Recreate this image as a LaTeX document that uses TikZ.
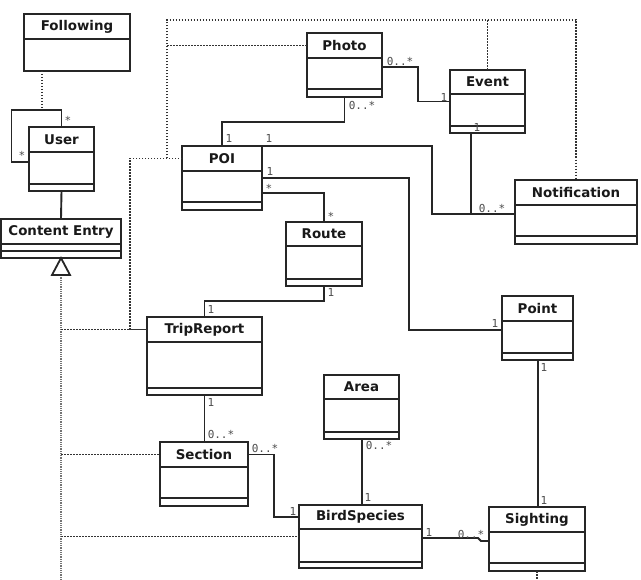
\documentclass[tikz,border=0pt]{standalone}
\usepackage{fontspec}
\setmainfont{DejaVu Sans}
\newfontfamily\multfont{DejaVu Sans Mono}
\usetikzlibrary{calc}
\tikzset{
  clsbox/.style={draw=black!85, line width=2pt, inner sep=0pt, outer sep=0pt, fill=white},
  clsline/.style={draw=black!85, line width=2pt},
  clstitle/.style={font=\fontsize{13.4}{15}\selectfont\bfseries, text=black!90, inner sep=0pt},
  conn/.style={draw=black!85, line width=1.9pt},
  dotln/.style={draw=black!80, line width=1.6pt, dash pattern=on 1.5pt off 1.5pt},
  genln/.style={draw=black!55, line width=1.5pt, dash pattern=on 1pt off 0.8pt},
  tri/.style={draw=black!85, line width=1.8pt, fill=white, line join=miter},
  mult/.style={font=\multfont\fontsize{11}{12}\selectfont, text=black!70, inner sep=0pt},
}
\newcommand\umlclass[8]{%
  \node[clsbox, minimum width=#4pt, minimum height=#5pt, anchor=north west] (#1) at (#2,#3) {};
  \draw[clsline] ($(#1.north west)+(0,#6)$) -- ++(#4,0);
  \draw[clsline] ($(#1.north west)+(0,#7)$) -- ++(#4,0);
  \node[clstitle] (#1-t) at ($(#1.north)+(0,#6/2)$) {#8};
}
\begin{document}
\begin{tikzpicture}[x=1pt,y=-1pt]
\useasboundingbox (0,0) rectangle (641,580);

% classes: name, x, y, w, h, title band, second line, title
\umlclass{following}{24}{14}{106}{57}{25}{57}{Following}
\umlclass{user}{29}{127}{65}{64}{25}{57}{User}
\umlclass{content}{1}{219}{120}{39}{25}{32}{Content Entry}
\umlclass{photo}{307}{33}{75}{64}{25}{56}{Photo}
\umlclass{event}{450}{70}{75}{63}{24}{56}{Event}
\umlclass{poi}{182}{146}{80}{64}{25}{56}{POI}
\umlclass{notif}{515}{180}{122}{64}{25}{56}{Notification}
\umlclass{route}{286}{222}{76}{64}{24}{57}{Route}
\umlclass{trip}{147}{317}{115}{78}{25}{71}{TripReport}
\umlclass{area}{324}{375}{75}{64}{24}{57}{Area}
\umlclass{point}{502}{296}{71}{64}{25}{57}{Point}
\umlclass{section}{160}{442}{88}{64}{25}{56}{Section}
\umlclass{bird}{299}{505}{123}{63}{24}{57}{BirdSpecies}
\umlclass{sighting}{489}{507}{96}{64}{25}{56}{Sighting}

% helper coordinates
\coordinate (vx) at ($(poi.west)+(-15,0)$);
\coordinate (topl) at ($(vx |- photo.north)+(0,-13)$);
\coordinate (gbot) at (content.south |- 0,580);
\coordinate (ev) at ($(event.south)+(-16.5,0)$);
\coordinate (as) at ($(area.south)+(0.5,0)$);
\coordinate (ps) at ($(point.south)+(0.5,0)$);

% generalization
\draw[genln] (gbot) -- ($(content.south)+(0,17)$);
\draw[tri] (content.south) -- ++(-9,17) -- ++(18,0) -- cycle;

% dotted realisation lines
\draw[dotln] (poi.west |- poi-t.center) -- ++(-52,0) |- (trip.west |- trip-t.center);
\draw[dotln] (vx |- poi-t.center) -- (topl) -| (notif.north);
\draw[dotln] (vx |- photo-t.center) -- (photo.west |- photo-t.center);
\draw[dotln] (event.north) -- (event.north |- topl);
\draw[dotln] (content.south |- trip-t.center) -- (trip.west |- trip-t.center);
\draw[dotln] (content.south |- section-t.center) -- (section.west |- section-t.center);
\draw[dotln] (content.south |- bird.west) -- (bird.west);
\draw[dotln] (sighting.south) -- (sighting.south |- gbot);
\draw[dotln] ($(following.south)+(-35,0)$) -- ++(0,39);

% associations
\draw[conn] (user.south) -- (content.north);
\draw[conn] (user.north) -- ++(0,-17) -- ++(-50,0) |- ($(user.west)+(0,3)$);
\draw[conn] (photo.south) -- ++(0,25) -| (poi.north);
\draw[conn] ($(photo.east)+(0,2)$) -- ++(36,0) |- (event.west);
\draw[conn] (poi.north east) -- ++(170,0) |- ($(notif.west)+(0,2)$);
\draw[conn] (ev) -- (ev |- 0,214);
\draw[conn] (poi.east) -- ++(147,0) |- ($(point.west)+(0,2)$);
\draw[conn] ($(poi.east)+(0,15)$) -| (route.north);
\draw[conn] (route.south) -- ++(0,15) -| (trip.north);
\draw[conn] (trip.south) -- (trip.south |- section.north);
\draw[conn] (section.east |- section-t.center) -- ++(26,0) |- (bird.west |- bird-t.center);
\draw[conn] (as) -- (as |- bird.north);
\draw[conn] ($(bird.east)+(0,1.5)$) -- ++(56,0) -- ($(sighting.west)+(-8,2)$) -- ($(sighting.west)+(0,2)$);
\draw[conn] (ps) -- (ps |- sighting.north);

% multiplicities
\node[mult] (m1) at (68,120) {*};
\node[mult] (m2) at (22,155) {*};
\node[mult] (m3) at (362,105) {0..*};
\node[mult] (m4) at (229,138) {1};
\node[mult] (m5) at (269,138) {1};
\node[mult] (m6) at (400,61) {0..*};
\node[mult] (m7) at (444,97) {1};
\node[mult] (m8) at (477,127) {1};
\node[mult] (m9) at (492,208) {0..*};
\node[mult] (m10) at (270,171) {1};
\node[mult] (m11) at (269,188) {*};
\node[mult] (m12) at (331,216) {*};
\node[mult] (m13) at (331,292) {1};
\node[mult] (m14) at (211,309) {1};
\node[mult] (m15) at (211,402) {1};
\node[mult] (m16) at (221,434) {0..*};
\node[mult] (m17) at (265,448) {0..*};
\node[mult] (m18) at (293,511) {1};
\node[mult] (m19) at (495,323) {1};
\node[mult] (m20) at (544,367) {1};
\node[mult] (m21) at (379,445) {0..*};
\node[mult] (m22) at (368,497) {1};
\node[mult] (m23) at (429,532) {1};
\node[mult] (m24) at (471,534) {0..*};
\node[mult] (m25) at (544,500) {1};
\end{tikzpicture}
\end{document}
